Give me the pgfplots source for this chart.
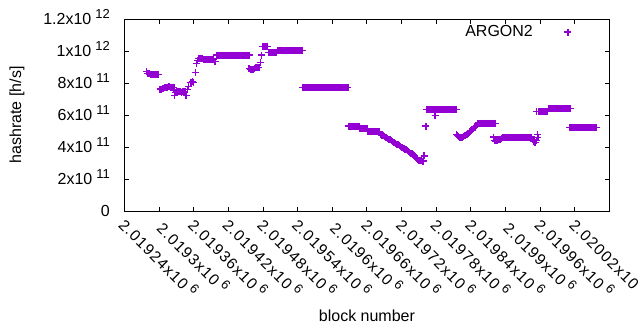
\documentclass[border=0pt]{standalone}
\usepackage{pgfplots}
\pgfplotsset{compat=1.18}
\usepackage{fontspec}
\setmainfont{Liberation Sans}
\definecolor{gpv}{RGB}{148,0,211}
\newcommand{\sci}[2]{#1x10\hspace{4pt}\raisebox{5.8pt}{\fontsize{13}{13}\selectfont #2}}
\newcommand{\tf}{\fontsize{16}{19}\selectfont}
\newcommand{\xf}{\fontsize{15.5}{19}\selectfont\addfontfeatures{LetterSpace=7}}
% x column: block number minus 2019000
\begin{document}
\tf
\begin{tikzpicture}
\useasboundingbox (-124.3pt,-119pt) rectangle (515.7pt,211pt);
\begin{axis}[
  at={(0pt,0pt)}, anchor=south west,
  scale only axis, width=485.3pt, height=192pt,
  xmin=180, xmax=1020, ymin=0, ymax=1.2e12,
  scaled y ticks=false, scaled x ticks=false,
  axis line style={line width=0.9pt},
  every tick/.style={black, line width=0.9pt},
  major tick length=4.5pt,
  xtick={240,300,360,420,480,540,600,660,720,780,840,900,960,1020},
  xticklabels={\sci{2.01924}{6},\sci{2.0193}{6},\sci{2.01936}{6},\sci{2.01942}{6},\sci{2.01948}{6},\sci{2.01954}{6},\sci{2.0196}{6},\sci{2.01966}{6},\sci{2.01972}{6},\sci{2.01978}{6},\sci{2.01984}{6},\sci{2.0199}{6},\sci{2.01996}{6},\sci{2.02002}{6}},
  ytick={0,2e11,4e11,6e11,8e11,1e12,1.2e12},
  yticklabels={0,\sci{2}{11},\sci{4}{11},\sci{6}{11},\sci{8}{11},\sci{1}{12},\sci{1.2}{12}},
  yticklabel style={font=\tf, anchor=base east, inner sep=0pt, xshift=-14.3pt, yshift=-5.7pt},
  xticklabel style={font=\xf, rotate=-45, anchor=center, inner sep=0pt},
  xticklabel shift=46pt,
  xlabel={block number}, ylabel={hashrate [h/s]},
  xlabel style={font=\tf, at={(axis description cs:0.5,0)}, anchor=center, yshift=-105pt},
  ylabel style={font=\tf, at={(axis description cs:-0.2211,0.5)}, anchor=center},
  legend plot pos=right,
  legend style={font=\tf, draw=none, fill=none, at={(axis description cs:1,0.932)}, anchor=east, xshift=-35pt, column sep=29.5pt},
]
\addplot[only marks, mark=+, mark size=3.5pt, line width=1.3pt, color=gpv] table[row sep=\\] {
x y\\
219 8.70e11\\ 221 8.58e11\\ 223 8.58e11\\ 225 8.56e11\\ 227 8.55e11\\ 229 8.54e11\\ 231 8.53e11\\ 233 8.53e11\\ 235 8.53e11\\ 237 8.52e11\\ 239 8.52e11\\
242 7.62e11\\ 244 7.62e11\\ 246 7.63e11\\ 248 7.65e11\\ 250 7.74e11\\ 252 7.75e11\\ 254 7.75e11\\ 256 7.76e11\\ 258 7.76e11\\ 260 7.75e11\\ 262 7.75e11\\ 264 7.74e11\\ 266 7.74e11\\
267 7.20e11\\ 269 7.40e11\\ 271 7.45e11\\ 273 7.48e11\\ 275 7.50e11\\ 277 7.45e11\\ 279 7.38e11\\ 281 7.45e11\\ 283 7.48e11\\ 285 7.46e11\\ 287 7.20e11\\
289 7.60e11\\ 291 7.80e11\\ 294 8.02e11\\ 296 8.05e11\\ 298 8.08e11\\ 300 8.05e11\\ 303 8.66e11\\ 305 9.23e11\\ 307 9.40e11\\ 309 9.52e11\\ 311 9.55e11\\ 313 9.55e11\\ 315 9.52e11\\ 317 9.48e11\\ 319 9.45e11\\ 321 9.47e11\\ 323 9.48e11\\ 325 9.47e11\\ 327 9.45e11\\ 329 9.45e11\\ 331 9.47e11\\ 333 9.48e11\\ 335 9.47e11\\ 337 9.33e11\\
339 9.75e11\\ 341 9.75e11\\ 343 9.75e11\\ 345 9.75e11\\ 347 9.75e11\\ 349 9.75e11\\ 351 9.75e11\\ 353 9.75e11\\ 355 9.75e11\\ 357 9.75e11\\ 359 9.75e11\\ 361 9.75e11\\ 363 9.75e11\\ 365 9.75e11\\ 367 9.75e11\\ 369 9.75e11\\ 371 9.75e11\\ 373 9.75e11\\ 375 9.75e11\\ 377 9.75e11\\ 379 9.75e11\\ 381 9.75e11\\ 383 9.75e11\\ 385 9.75e11\\ 387 9.75e11\\ 389 9.75e11\\ 391 9.75e11\\ 393 9.75e11\\ 395 9.75e11\\ 397 9.75e11\\
396 8.90e11\\ 399 8.85e11\\ 401 8.85e11\\ 403 8.86e11\\ 405 8.88e11\\ 407 8.97e11\\ 409 8.98e11\\ 411 8.98e11\\ 413 8.98e11\\ 416 9.29e11\\ 417 9.75e11\\
420 1.030e12\\ 422 1.030e12\\ 424 1.030e12\\ 426 1.030e12\\ 428 1.030e12\\
430 9.90e11\\ 432 9.90e11\\ 434 9.90e11\\ 436 9.90e11\\ 438 9.90e11\\ 440 9.90e11\\ 442 9.90e11\\ 444 9.90e11\\
446 1.003e12\\ 448 1.003e12\\ 450 1.003e12\\ 452 1.003e12\\ 454 1.003e12\\ 456 1.003e12\\ 458 1.003e12\\ 460 1.003e12\\ 462 1.003e12\\ 464 1.003e12\\ 466 1.003e12\\ 468 1.003e12\\ 470 1.003e12\\ 472 1.003e12\\ 474 1.003e12\\ 476 1.003e12\\ 478 1.003e12\\ 480 1.003e12\\ 482 1.003e12\\ 484 1.003e12\\ 486 1.003e12\\ 488 1.003e12\\
489 7.72e11\\ 491 7.72e11\\ 493 7.72e11\\ 495 7.72e11\\ 497 7.72e11\\ 499 7.72e11\\ 501 7.72e11\\ 503 7.72e11\\ 505 7.72e11\\ 507 7.72e11\\ 509 7.72e11\\ 511 7.72e11\\ 513 7.72e11\\ 515 7.72e11\\ 517 7.72e11\\ 519 7.72e11\\ 521 7.72e11\\ 523 7.72e11\\ 525 7.72e11\\ 527 7.72e11\\ 529 7.72e11\\ 531 7.72e11\\ 533 7.72e11\\ 535 7.72e11\\ 537 7.72e11\\ 539 7.72e11\\ 541 7.72e11\\ 543 7.72e11\\ 545 7.72e11\\ 547 7.72e11\\ 549 7.72e11\\ 551 7.72e11\\ 553 7.72e11\\ 555 7.72e11\\ 557 7.72e11\\ 559 7.72e11\\ 561 7.72e11\\ 563 7.72e11\\ 565 7.72e11\\ 567 7.72e11\\
568 5.31e11\\ 570 5.31e11\\ 572 5.31e11\\ 574 5.31e11\\ 576 5.31e11\\ 578 5.31e11\\ 580 5.31e11\\ 582 5.31e11\\ 584 5.31e11\\ 586 5.31e11\\
588 5.17e11\\ 590 5.17e11\\ 592 5.17e11\\ 594 5.17e11\\ 596 5.17e11\\ 598 5.17e11\\ 600 5.17e11\\
602 4.97e11\\ 604 4.97e11\\ 606 4.97e11\\ 608 4.97e11\\ 610 4.97e11\\ 612 4.97e11\\ 614 4.97e11\\ 616 4.97e11\\ 618 4.97e11\\ 620 4.97e11\\ 622 4.97e11\\
624 4.78e11\\ 626 4.75e11\\ 628 4.70e11\\ 630 4.65e11\\ 632 4.62e11\\ 634 4.58e11\\ 636 4.55e11\\ 638 4.50e11\\ 640 4.47e11\\ 642 4.42e11\\
644 4.35e11\\ 646 4.30e11\\ 648 4.27e11\\ 650 4.22e11\\ 652 4.18e11\\ 654 4.14e11\\ 656 4.10e11\\
658 4.02e11\\ 660 3.98e11\\ 662 3.95e11\\ 664 3.90e11\\ 666 3.86e11\\ 668 3.82e11\\ 670 3.78e11\\
672 3.72e11\\ 674 3.67e11\\ 676 3.62e11\\ 678 3.57e11\\ 680 3.52e11\\ 682 3.46e11\\
684 3.35e11\\ 686 3.28e11\\ 688 3.22e11\\ 690 3.18e11\\ 692 3.15e11\\ 694 3.13e11\\ 696 3.12e11\\ 698 3.12e11\\
699 3.44e11\\ 702 5.31e11\\
703 6.34e11\\ 705 6.34e11\\ 707 6.34e11\\ 709 6.34e11\\ 711 6.34e11\\ 713 6.34e11\\ 715 6.34e11\\ 717 6.34e11\\ 718 5.96e11\\ 719 6.34e11\\ 721 6.34e11\\ 723 6.34e11\\ 725 6.34e11\\ 727 6.34e11\\ 729 6.34e11\\ 731 6.34e11\\ 733 6.34e11\\ 735 6.34e11\\ 737 6.34e11\\ 739 6.34e11\\ 741 6.34e11\\ 743 6.34e11\\ 745 6.34e11\\ 747 6.34e11\\ 749 6.34e11\\ 751 6.34e11\\ 753 6.34e11\\ 755 6.34e11\\
755 4.79e11\\ 757 4.72e11\\ 759 4.68e11\\ 761 4.62e11\\ 763 4.60e11\\ 765 4.62e11\\
767 4.66e11\\ 769 4.70e11\\ 771 4.75e11\\ 773 4.80e11\\ 775 4.86e11\\ 777 4.92e11\\
779 4.98e11\\ 781 5.05e11\\ 783 5.12e11\\ 785 5.18e11\\ 787 5.25e11\\ 789 5.32e11\\
791 5.47e11\\ 793 5.47e11\\ 795 5.47e11\\ 797 5.47e11\\ 799 5.47e11\\ 801 5.47e11\\ 803 5.47e11\\ 805 5.47e11\\ 807 5.47e11\\ 809 5.47e11\\ 811 5.47e11\\ 813 5.47e11\\ 815 5.47e11\\ 817 5.47e11\\ 819 5.47e11\\ 821 5.47e11\\ 823 5.47e11\\
819 4.62e11\\ 821 4.42e11\\ 823 4.38e11\\ 825 4.40e11\\ 827 4.45e11\\ 829 4.48e11\\ 831 4.50e11\\ 833 4.55e11\\ 835 4.58e11\\ 837 4.60e11\\
839 4.60e11\\ 841 4.60e11\\ 843 4.60e11\\ 845 4.60e11\\ 847 4.60e11\\ 849 4.60e11\\ 851 4.60e11\\ 853 4.60e11\\ 855 4.60e11\\ 857 4.60e11\\ 859 4.60e11\\ 861 4.60e11\\
863 4.62e11\\ 865 4.62e11\\ 867 4.62e11\\ 869 4.62e11\\ 871 4.62e11\\ 873 4.62e11\\ 875 4.62e11\\ 877 4.62e11\\ 879 4.62e11\\ 881 4.62e11\\ 883 4.62e11\\ 885 4.62e11\\
887 4.45e11\\ 889 4.35e11\\ 891 4.30e11\\ 893 4.40e11\\ 895 4.79e11\\ 896 4.60e11\\
894 6.20e11\\ 898 6.20e11\\ 900 6.20e11\\ 902 6.20e11\\ 904 6.20e11\\ 906 6.20e11\\ 908 6.20e11\\ 910 6.20e11\\ 912 6.20e11\\
914 6.40e11\\ 916 6.40e11\\ 918 6.40e11\\ 920 6.40e11\\ 922 6.40e11\\ 924 6.40e11\\ 926 6.40e11\\ 928 6.40e11\\ 930 6.40e11\\ 932 6.40e11\\ 934 6.40e11\\ 936 6.40e11\\ 938 6.40e11\\ 940 6.40e11\\ 942 6.40e11\\ 944 6.40e11\\ 946 6.40e11\\ 948 6.40e11\\ 950 6.40e11\\ 952 6.40e11\\
951 5.23e11\\ 953 5.23e11\\ 955 5.23e11\\ 957 5.23e11\\ 959 5.23e11\\ 961 5.23e11\\ 963 5.23e11\\ 965 5.23e11\\ 967 5.23e11\\ 969 5.23e11\\ 971 5.23e11\\ 973 5.23e11\\ 975 5.23e11\\ 977 5.23e11\\ 979 5.23e11\\ 981 5.23e11\\ 983 5.23e11\\ 985 5.23e11\\ 987 5.23e11\\ 989 5.23e11\\ 991 5.23e11\\ 993 5.23e11\\ 995 5.23e11\\ 997 5.23e11\\
};
\addlegendentry{ARGON2}
\end{axis}
\end{tikzpicture}
\end{document}
